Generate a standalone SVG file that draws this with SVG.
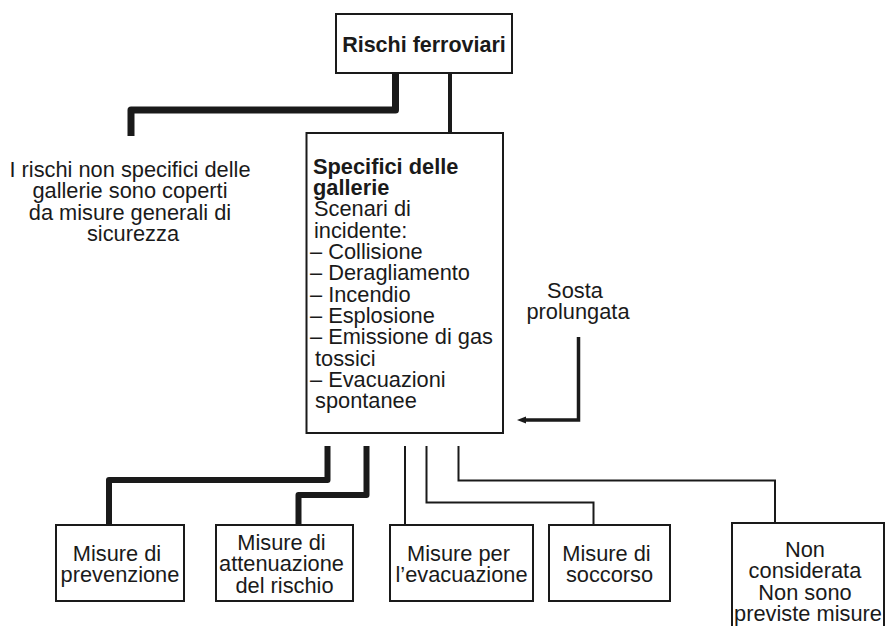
<svg xmlns="http://www.w3.org/2000/svg" width="886" height="626" viewBox="0 0 886 626">
<style>
  text { font-family: "Liberation Sans", Arial, Helvetica, sans-serif; font-size: 21.8px; fill: #1a1a1a; }
  .b { font-weight: bold; }
  .c { text-anchor: middle; }
  .box { fill: #ffffff; stroke: #1a1a1a; stroke-width: 2; }
  .thick { fill: none; stroke: #1a1a1a; stroke-width: 7; stroke-linejoin: round; }
  .mid { fill: none; stroke: #1a1a1a; stroke-width: 4; }
  .thin { fill: none; stroke: #1a1a1a; stroke-width: 2; }
</style>
<rect width="886" height="626" fill="#ffffff"/>

<g id="connectors">
  <path class="thick" d="M395.5,73 V110 H131 V136"/>
  <path class="mid" d="M450,73 V133"/>
  <path class="thick" style="stroke-width:6" d="M327.5,446 V480 H109 V525"/>
  <path class="thick" style="stroke-width:6" d="M366.5,446 V495 H298.5 V525"/>
  <path class="thin" d="M405,446 V525"/>
  <path class="thin" d="M426.5,446 V502.5 H593.5 V525"/>
  <path class="thin" d="M458.5,446 V480.5 H775 V523"/>
  <path fill="none" stroke="#1a1a1a" stroke-width="3.5" d="M578.5,337 V420 H525"/>
  <path d="M517,420 L526,416.5 L526,423.5 Z" fill="#1a1a1a"/>
</g>

<g id="rischi-ferroviari">
  <rect class="box" x="336" y="14" width="176" height="59"/>
  <text class="b c" x="424" y="52" style="font-size:21.5px">Rischi ferroviari</text>
</g>

<g id="non-specifici">
  <text class="c">
    <tspan x="133" y="177">I rischi non specifici delle</tspan>
    <tspan x="133" y="198.3">gallerie sono coperti</tspan>
    <tspan x="133" y="219.6">da misure generali di</tspan>
    <tspan x="133" y="241">sicurezza</tspan>
  </text>
</g>

<g id="specifici">
  <rect class="box" x="306.5" y="133" width="196.5" height="300"/>
  <text>
    <tspan class="b" x="313" y="173.5">Specifici delle</tspan>
    <tspan class="b" x="313" y="195">gallerie</tspan>
    <tspan x="314" y="216.3">Scenari di</tspan>
    <tspan x="314" y="237.6">incidente:</tspan>
    <tspan x="310" y="259">– Collisione</tspan>
    <tspan x="310" y="280.3">– Deragliamento</tspan>
    <tspan x="310" y="301.6">– Incendio</tspan>
    <tspan x="310" y="323">– Esplosione</tspan>
    <tspan x="310" y="344.3">– Emissione di gas</tspan>
    <tspan x="315" y="365.6">tossici</tspan>
    <tspan x="310" y="387">– Evacuazioni</tspan>
    <tspan x="315" y="408.3">spontanee</tspan>
  </text>
</g>

<g id="sosta-prolungata">
  <text class="c">
    <tspan x="578" y="298">Sosta</tspan>
    <tspan x="578" y="319">prolungata</tspan>
  </text>
</g>

<g id="misure-prevenzione">
  <rect class="box" x="56" y="525" width="128" height="76"/>
  <text class="c">
    <tspan x="120" y="561">Misure di</tspan>
    <tspan x="120" y="582">prevenzione</tspan>
  </text>
</g>

<g id="misure-attenuazione">
  <rect class="box" x="216" y="525" width="137" height="76"/>
  <text class="c">
    <tspan x="284.5" y="550">Misure di</tspan>
    <tspan x="284.5" y="571.3">attenuazione</tspan>
    <tspan x="284.5" y="592.6">del rischio</tspan>
  </text>
</g>

<g id="misure-evacuazione">
  <rect class="box" x="390" y="525" width="143" height="76"/>
  <text class="c">
    <tspan x="461.5" y="561">Misure per</tspan>
    <tspan x="461.5" y="582">l’evacuazione</tspan>
  </text>
</g>

<g id="misure-soccorso">
  <rect class="box" x="549" y="525" width="121" height="76"/>
  <text class="c">
    <tspan x="609.5" y="561">Misure di</tspan>
    <tspan x="609.5" y="582">soccorso</tspan>
  </text>
</g>

<g id="non-considerata">
  <rect class="box" x="732" y="523" width="152" height="120"/>
  <text class="c">
    <tspan x="808" y="557">Non</tspan>
    <tspan x="808" y="578.3">considerata</tspan>
    <tspan x="808" y="599.6">Non sono</tspan>
    <tspan x="808" y="621">previste misure</tspan>
  </text>
</g>
</svg>
